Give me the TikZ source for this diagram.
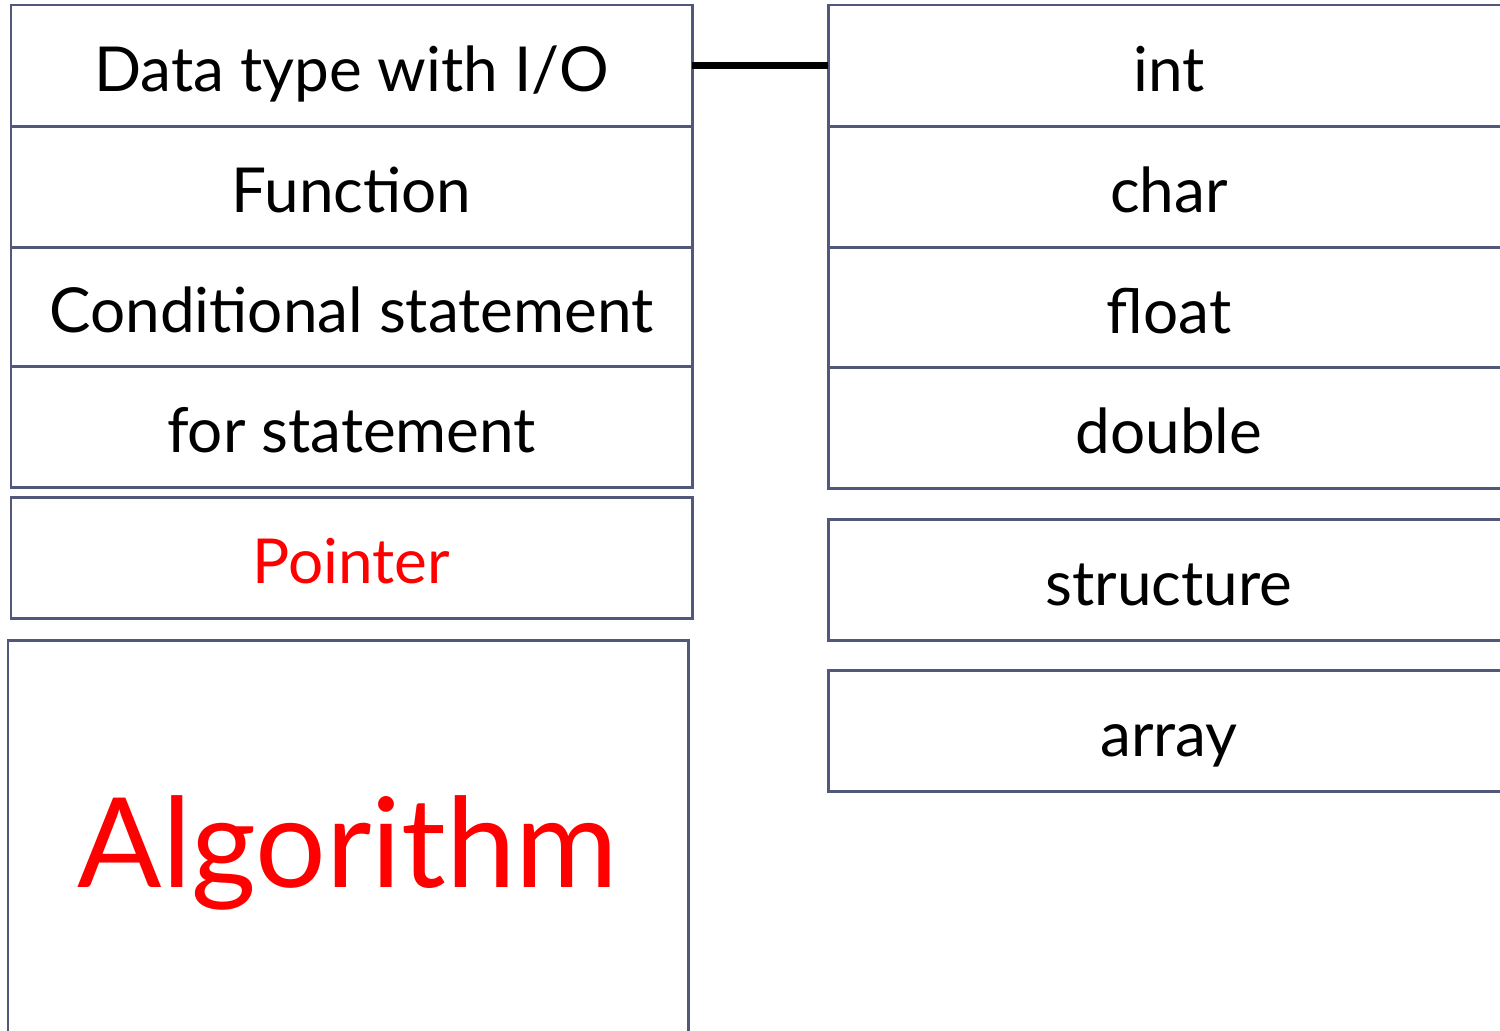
\documentclass[tikz,border=0pt]{standalone}
\usepackage{fontspec}
\setmainfont{Lato}
\usepackage{tikz}
\usetikzlibrary{positioning}
\definecolor{frame}{RGB}{82,88,122}
\tikzstyle{cell} = [rectangle, draw=frame, line width=1.7pt, outer sep=0pt, minimum width=13.62cm, minimum height=2.42cm, text centered, inner sep=0pt, text height=1.3cm, text depth=0.26cm, font=\fontsize{35.3}{40}\selectfont]
\tikzstyle{typecell} = [cell, minimum width=13.64cm]
\tikzstyle{link} = [line width=3.6pt, black]

\begin{document}
\begin{tikzpicture}[node distance=0pt]
\useasboundingbox (0,0) rectangle (30,-20.6);
\clip (0,0) rectangle (30,-20.6);

% Course topics
\node (dataio) [cell, anchor=north west] at (0.22,-0.1) {Data type with I/O};
\node (function) [cell, below=of dataio] {Function};
\node (cond) [cell, below=of function, minimum height=2.38cm] {Conditional statement};
\node (forstmt) [cell, below=of cond] {for statement};
\node (pointer) [cell, below=0.2cm of forstmt, text=red] {Pointer};
\node (algo) [cell, anchor=north west, minimum width=13.6cm, minimum height=9.88cm, text height=1.5cm, text depth=1.5cm, text=red, font=\fontsize{71}{80}\selectfont] at (0.16,-12.8) {Algorithm};

% Data types
\node (int) [typecell, anchor=north west] at (16.56,-0.1) {int};
\node (char) [typecell, below=of int] {char};
\node (float) [typecell, below=of char, minimum height=2.4cm] {float};
\node (double) [typecell, below=of float] {double};
\node (struct) [typecell, below=0.62cm of double] {structure};
\node (array) [typecell, below=0.6cm of struct] {array};

% Link
\draw [link] (dataio.east) -- (int.west);

\end{tikzpicture}
\end{document}
